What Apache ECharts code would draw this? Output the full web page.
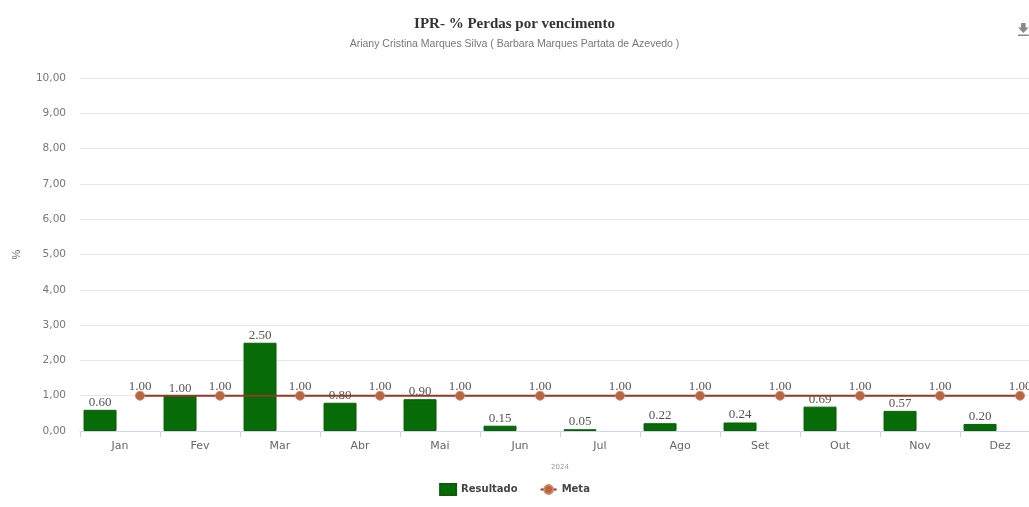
<!DOCTYPE html>
<html>
<head>
<meta charset="utf-8">
<script src="https://cdn.jsdelivr.net/npm/echarts@6/dist/echarts.min.js"></script>
<style>
  html, body { margin: 0; padding: 0; background: #fff; }
  #chart { width: 1029px; height: 507px; }
</style>
</head>
<body>
<div id="chart"></div>
<script>
// dados
const meses = ['Jan', 'Fev', 'Mar', 'Abr', 'Mai', 'Jun', 'Jul', 'Ago', 'Set', 'Out', 'Nov', 'Dez']
const resultado = [0.60, 1.00, 2.50, 0.80, 0.90, 0.15, 0.05, 0.22, 0.24, 0.69, 0.57, 0.20]
const meta = [1.00, 1.00, 1.00, 1.00, 1.00, 1.00, 1.00, 1.00, 1.00, 1.00, 1.00, 1.00]
const yTicks = [0, 1, 2, 3, 4, 5, 6, 7, 8, 9, 10]

const chart = echarts.init(document.getElementById('chart'))

// ponto da meta fica a 3/4 de cada categoria (eixo de valor auxiliar)
const metaPts = meta.map((v, i) => [i + 0.75, v])

const option = {
  animation: false,
  backgroundColor: '#fff',
  title: {
    text: 'IPR- % Perdas por vencimento',
    subtext: 'Ariany Cristina Marques Silva ( Barbara Marques Partata de Azevedo )',
    left: 'center',
    top: 12,
    itemGap: 7,
    textStyle: {
      fontFamily: 'Liberation Serif',
      fontWeight: 'bold',
      fontSize: 15,
      color: '#333'
    },
    subtextStyle: {
      fontFamily: 'Liberation Sans',
      fontSize: 10.5,
      color: '#777'
    }
  },
  toolbox: {
    left: 1003,
    top: 8,
    itemSize: 13,
    feature: {
      saveAsImage: {
        title: '',
        icon: 'path://M4,0 L10,0 L10,6 L14,6 L7,13 L0,6 L4,6 Z M0,15 L14,15 L14,17 L0,17 Z'
      }
    },
    iconStyle: { color: '#8a8a8a', borderWidth: 0 }
  },
  legend: {
    bottom: 6,
    left: 'center',
    itemGap: 22,
    itemWidth: 16,
    itemHeight: 11,
    data: [
      { name: 'Resultado', icon: 'rect' },
      { name: 'Meta' }
    ],
    textStyle: {
      fontFamily: 'DejaVu Sans',
      fontWeight: 'bold',
      fontSize: 10,
      color: '#444'
    }
  },
  grid: {
    left: 80,
    width: 960,
    top: 78,
    bottom: 76,
    containLabel: false,
    outerBoundsMode: 'none'
  },
  xAxis: [
    {
      type: 'category',
      data: meses,
      name: '2024',
      nameLocation: 'middle',
      nameGap: 33,
      nameTextStyle: { fontSize: 7, color: '#999', fontFamily: 'DejaVu Sans' },
      axisLine: { lineStyle: { color: '#ccd6eb' } },
      axisTick: { show: true, length: 6, lineStyle: { color: '#ccd6eb' } },
      axisLabel: {
        color: '#666',
        fontSize: 11,
        fontFamily: 'DejaVu Sans',
        margin: 10
      },
      splitLine: { show: false }
    },
    {
      type: 'value',
      min: 0,
      max: 12,
      show: false
    }
  ],
  yAxis: {
    type: 'value',
    min: yTicks[0],
    max: yTicks[yTicks.length - 1],
    interval: 1,
    name: '%',
    nameLocation: 'middle',
    nameRotate: 90,
    nameGap: 58,
    nameTextStyle: { fontSize: 11, color: '#666' },
    axisLine: { show: false },
    axisTick: { show: false },
    axisLabel: {
      color: '#777',
      fontSize: 10.5,
      fontFamily: 'DejaVu Sans',
      margin: 14,
      formatter: v => v.toFixed(2).replace('.', ',')
    },
    splitLine: { lineStyle: { color: '#e6e6e6', width: 1 } }
  },
  series: [
    {
      name: 'Resultado',
      type: 'bar',
      xAxisIndex: 0,
      data: resultado,
      barWidth: 33,
      barGap: '21%',
      itemStyle: { color: '#076b07', borderColor: '#0a5e0a', borderWidth: 1 },
      label: {
        show: true,
        position: 'top',
        distance: 1,
        fontFamily: 'Liberation Serif',
        fontSize: 13,
        color: '#555',
        textBorderColor: '#fff',
        textBorderWidth: 2,
        formatter: p => p.value.toFixed(2)
      },
      z: 2
    },
    {
      // espaço reservado para deslocar a coluna para a esquerda
      name: 'espaco',
      type: 'bar',
      xAxisIndex: 0,
      data: resultado.map(() => '-'),
      barWidth: 33,
      itemStyle: { color: 'transparent' }
    },
    {
      name: 'Meta',
      type: 'line',
      xAxisIndex: 1,
      data: metaPts,
      symbol: 'circle',
      symbolSize: 9,
      lineStyle: { color: '#8e3b27', width: 2 },
      itemStyle: { color: '#b9643d', borderColor: '#c98a6a', borderWidth: 1 },
      label: {
        show: true,
        position: 'top',
        distance: -2,
        fontFamily: 'Liberation Serif',
        fontSize: 13,
        color: '#555',
        textBorderColor: '#fff',
        textBorderWidth: 2,
        formatter: p => p.value[1].toFixed(2)
      },
      z: 3
    }
  ]
}

chart.setOption(option)
</script>
</body>
</html>
